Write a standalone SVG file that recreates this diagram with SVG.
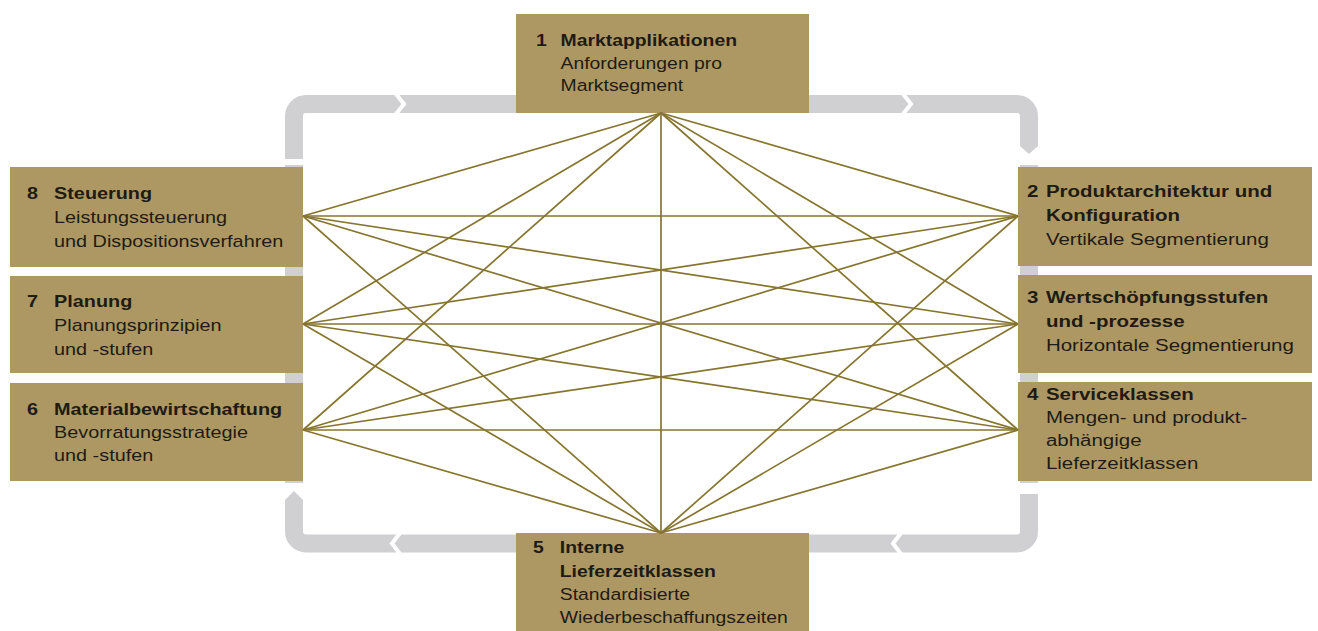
<svg xmlns="http://www.w3.org/2000/svg" width="1318" height="631" viewBox="0 0 1318 631">
<defs>
<style>
.box{fill:#AD9863;}
.band{fill:none;stroke:#D0D0D3;stroke-width:18;}
.bandf{fill:#D0D0D3;}
.gap{fill:none;stroke:#FFFFFF;stroke-width:4;stroke-linejoin:miter;}
.ln{stroke:#86752F;stroke-width:1.7;fill:none;}
.t{font-family:"Liberation Sans",Arial,sans-serif;fill:#1E1B14;}
.s{font-size:16px;}
.m{font-size:17px;}
.b{font-weight:bold;}
</style>
</defs>
<rect width="1318" height="631" fill="#FFFFFF"/>

<g id="cycle">
<path class="band" d="M294,159 L294,116 A12,12 0 0 1 306,104 L1017,104 A12,12 0 0 1 1029,116 L1029,146"/>
<polygon class="bandf" points="1020,146 1038,146 1029,154"/>
<polyline class="gap" points="396,94 404,104 396,114"/>
<polyline class="gap" points="903,94 911,104 903,114"/>
<rect class="bandf" x="285" y="165" width="18" height="318"/>
<rect class="bandf" x="1020" y="165" width="18" height="318"/>
<path class="band" d="M1029,494 L1029,531.5 A12,12 0 0 1 1017,543.5 L306,543.5 A12,12 0 0 1 294,531.5 L294,500"/>
<polygon class="bandf" points="285,500 303,500 294,491"/>
<polyline class="gap" points="901,533 893,543.5 901,554"/>
<polyline class="gap" points="400,533 392,543.5 400,554"/>
</g>

<g id="node1">
<rect class="box" x="516" y="14" width="293" height="99"/>
<g class="t m" transform="matrix(1.14,0,0,1,536,0)">
<text class="b" x="0" y="46">1</text>
<text class="b" x="21.5" y="46">Marktapplikationen</text>
<text x="21.5" y="69">Anforderungen pro</text>
<text x="21.5" y="91">Marktsegment</text>
</g>
</g>

<g id="node2">
<rect class="box" x="1018" y="167" width="294" height="99"/>
<g class="t s" transform="matrix(1.28,0,0,1,1027,0)">
<text class="b" x="0" y="197">2</text>
<text class="b" x="14.8" y="197">Produktarchitektur und</text>
<text class="b" x="14.8" y="221">Konfiguration</text>
<text x="14.8" y="245">Vertikale Segmentierung</text>
</g>
</g>

<g id="node3">
<rect class="box" x="1018" y="275" width="294" height="98"/>
<g class="t s" transform="matrix(1.28,0,0,1,1027,0)">
<text class="b" x="0" y="303">3</text>
<text class="b" x="14.8" y="303">Wertschöpfungsstufen</text>
<text class="b" x="14.8" y="327">und -prozesse</text>
<text x="14.8" y="351">Horizontale Segmentierung</text>
</g>
</g>

<g id="node4">
<rect class="box" x="1018" y="382" width="294" height="99"/>
<g class="t s" transform="matrix(1.28,0,0,1,1027,0)">
<text class="b" x="0" y="400">4</text>
<text class="b" x="14.8" y="400">Serviceklassen</text>
<text x="14.8" y="423">Mengen- und produkt-</text>
<text x="14.8" y="446">abhängige</text>
<text x="14.8" y="469">Lieferzeitklassen</text>
</g>
</g>

<g id="node5">
<rect class="box" x="516" y="533" width="293" height="98"/>
<g class="t m" transform="matrix(1.14,0,0,1,533,0)">
<text class="b" x="0" y="553">5</text>
<text class="b" x="23.5" y="553">Interne</text>
<text class="b" x="23.5" y="577">Lieferzeitklassen</text>
<text x="23.5" y="600">Standardisierte</text>
<text x="23.5" y="623">Wiederbeschaffungszeiten</text>
</g>
</g>

<g id="node6">
<rect class="box" x="10" y="383" width="293" height="98"/>
<g class="t s" transform="matrix(1.24,0,0,1,27,0)">
<text class="b" x="0" y="415">6</text>
<text class="b" x="21.8" y="415">Materialbewirtschaftung</text>
<text x="21.8" y="438">Bevorratungsstrategie</text>
<text x="21.8" y="461">und -stufen</text>
</g>
</g>

<g id="node7">
<rect class="box" x="10" y="276" width="293" height="97"/>
<g class="t s" transform="matrix(1.24,0,0,1,27,0)">
<text class="b" x="0" y="307">7</text>
<text class="b" x="21.8" y="307">Planung</text>
<text x="21.8" y="331">Planungsprinzipien</text>
<text x="21.8" y="355">und -stufen</text>
</g>
</g>

<g id="node8">
<rect class="box" x="10" y="167" width="293" height="100"/>
<g class="t s" transform="matrix(1.24,0,0,1,27,0)">
<text class="b" x="0" y="199">8</text>
<text class="b" x="21.8" y="199">Steuerung</text>
<text x="21.8" y="223">Leistungssteuerung</text>
<text x="21.8" y="247">und Dispositionsverfahren</text>
</g>
</g>

<g id="connectors" class="ln">
<line x1="661" y1="113" x2="1018" y2="216"/>
<line x1="661" y1="113" x2="1018" y2="324"/>
<line x1="661" y1="113" x2="1018" y2="430"/>
<line x1="661" y1="113" x2="661" y2="533"/>
<line x1="661" y1="113" x2="303" y2="430"/>
<line x1="661" y1="113" x2="303" y2="324"/>
<line x1="661" y1="113" x2="303" y2="216"/>
<line x1="1018" y1="216" x2="661" y2="533"/>
<line x1="1018" y1="216" x2="303" y2="430"/>
<line x1="1018" y1="216" x2="303" y2="324"/>
<line x1="1018" y1="216" x2="303" y2="216"/>
<line x1="1018" y1="324" x2="661" y2="533"/>
<line x1="1018" y1="324" x2="303" y2="430"/>
<line x1="1018" y1="324" x2="303" y2="324"/>
<line x1="1018" y1="324" x2="303" y2="216"/>
<line x1="1018" y1="430" x2="661" y2="533"/>
<line x1="1018" y1="430" x2="303" y2="430"/>
<line x1="1018" y1="430" x2="303" y2="324"/>
<line x1="1018" y1="430" x2="303" y2="216"/>
<line x1="661" y1="533" x2="303" y2="430"/>
<line x1="661" y1="533" x2="303" y2="324"/>
<line x1="661" y1="533" x2="303" y2="216"/>
</g>
</svg>
